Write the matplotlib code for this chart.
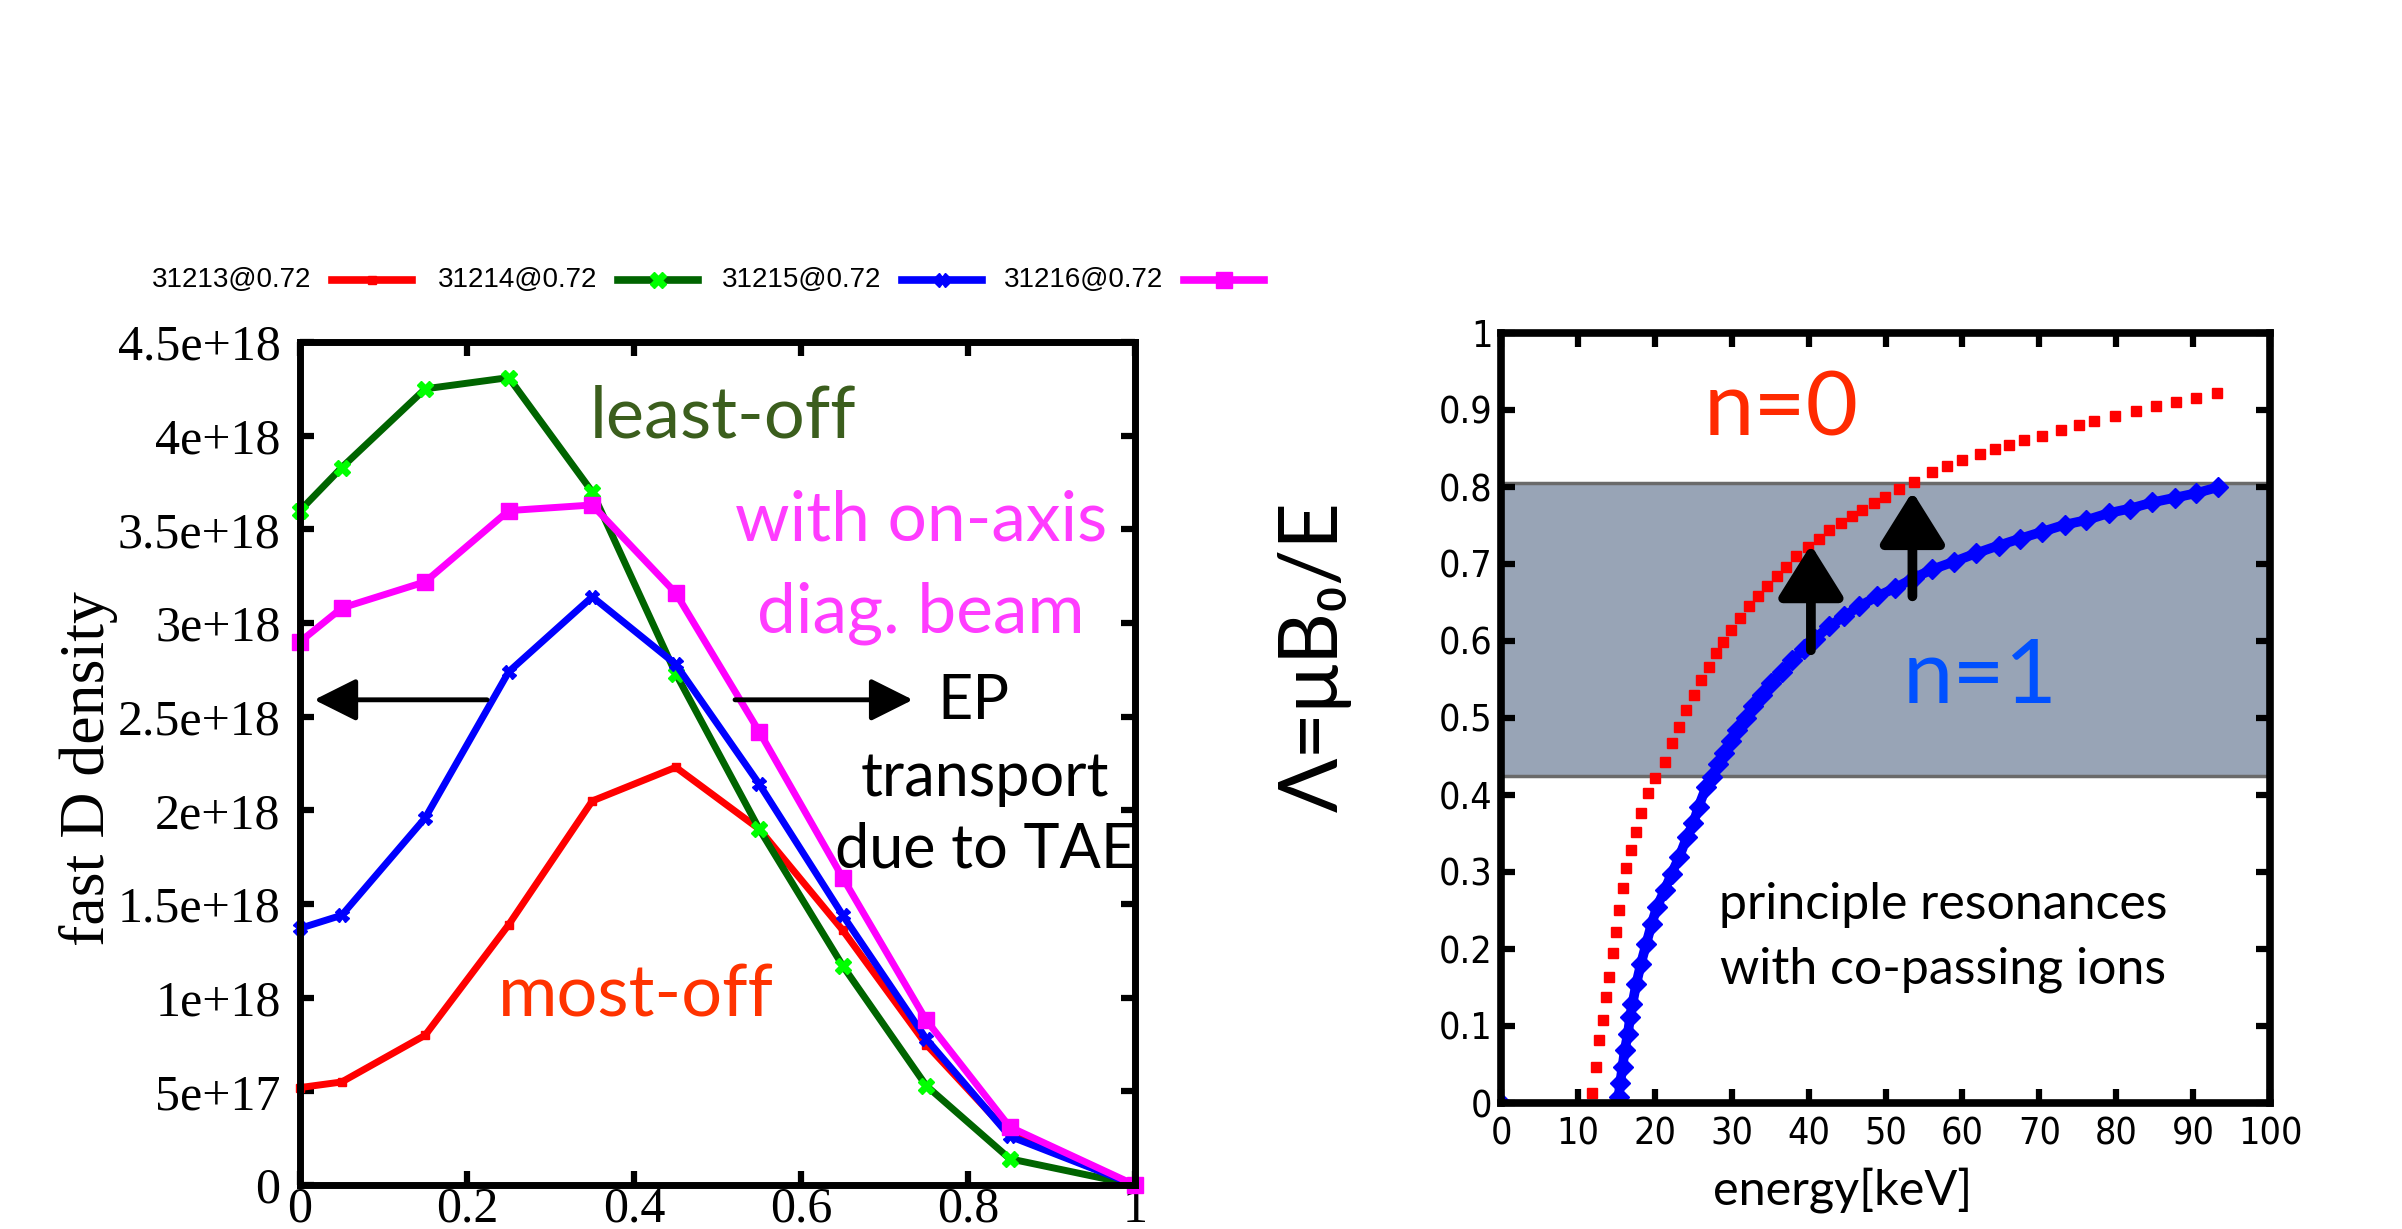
import numpy as np
import matplotlib
matplotlib.use("Agg")
import matplotlib.pyplot as plt
from matplotlib.lines import Line2D

# fast D density profiles (units of 1e18 m^-3) at t = 0.72 s
rho = [0, 0.05, 0.15, 0.25, 0.35, 0.45, 0.55, 0.65, 0.75, 0.85, 1.0]
shots = ["31213@0.72", "31214@0.72", "31215@0.72", "31216@0.72"]
dens_31213 = [0.52, 0.55, 0.80, 1.39, 2.05, 2.23, 1.90, 1.36, 0.75, 0.27, 0.0]
dens_31214 = [3.60, 3.83, 4.25, 4.31, 3.70, 2.73, 1.90, 1.17, 0.53, 0.14, 0.0]
dens_31215 = [1.37, 1.44, 1.96, 2.74, 3.14, 2.78, 2.14, 1.44, 0.78, 0.26, 0.0]
dens_31216 = [2.90, 3.08, 3.22, 3.60, 3.63, 3.16, 2.42, 1.64, 0.88, 0.31, 0.0]

# resonance curves Lambda(E)
energy_n0 = [11.8, 12.3, 12.8, 13.2, 13.7, 14.1, 14.5, 14.9, 15.3, 15.8,
             16.3, 16.9, 17.5, 18.2, 19.1, 20.0, 21.3, 22.2, 23.2, 24.1,
             25.1, 26.0, 27.0, 27.9, 28.9, 29.9, 31.1, 32.2, 33.4, 34.6,
             35.9, 37.0, 38.4, 39.9, 41.3, 42.7, 44.2, 45.6, 47.0, 48.5,
             49.9, 51.8, 53.7, 56.1, 58.0, 59.9, 62.3, 64.2, 66.1, 68.0,
             70.4, 72.8, 75.2, 77.1, 79.9, 82.6, 85.2, 87.8, 90.4, 93.1]
lam_n0 = [0.013, 0.047, 0.082, 0.108, 0.138, 0.164, 0.195, 0.222, 0.251, 0.279,
          0.305, 0.329, 0.352, 0.376, 0.402, 0.422, 0.443, 0.467, 0.488, 0.510,
          0.530, 0.549, 0.566, 0.584, 0.599, 0.614, 0.630, 0.645, 0.658, 0.671,
          0.684, 0.696, 0.710, 0.722, 0.733, 0.744, 0.753, 0.762, 0.770, 0.779,
          0.787, 0.798, 0.807, 0.820, 0.827, 0.835, 0.843, 0.849, 0.855, 0.861,
          0.866, 0.874, 0.880, 0.886, 0.892, 0.899, 0.905, 0.910, 0.915, 0.922]
energy_n1 = [15.3, 15.5, 15.8, 16.1, 16.5, 16.8, 17.1, 17.6, 18.2, 18.9,
             19.6, 20.3, 21.3, 22.2, 23.2, 24.2, 25.0, 25.7, 26.7, 27.5,
             28.2, 29.0, 29.9, 30.7, 31.8, 32.8, 34.0, 35.1, 36.5, 37.9,
             39.4, 40.8, 42.7, 44.6, 46.6, 48.9, 51.3, 53.7, 56.1, 58.9,
             61.8, 64.7, 67.5, 70.4, 73.3, 76.1, 79.0, 81.8, 84.7, 87.6,
             90.4, 93.3]
lam_n1 = [0.008, 0.026, 0.047, 0.069, 0.090, 0.112, 0.129, 0.155, 0.181, 0.207,
          0.233, 0.255, 0.277, 0.298, 0.320, 0.346, 0.363, 0.385, 0.411, 0.424,
          0.440, 0.455, 0.470, 0.485, 0.500, 0.515, 0.530, 0.545, 0.560, 0.575,
          0.590, 0.603, 0.619, 0.632, 0.645, 0.658, 0.669, 0.682, 0.693, 0.703,
          0.714, 0.724, 0.733, 0.742, 0.751, 0.757, 0.766, 0.772, 0.780, 0.786,
          0.792, 0.800]
band = (0.425, 0.805)

W, H = 2402, 1229
fig = plt.figure(figsize=(W / 100, H / 100), dpi=100)

serif = "Liberation Serif"
gill = ["Lato", "DejaVu Sans"]

# ---------------- left: density profiles ----------------
ax1 = fig.add_axes([300 / W, 1 - 1185 / H, 835 / W, 843 / H])
styles = [
    dict(color="#ff0000", marker="s", ms=6, mfc="#ff0000", mec="#ff0000"),
    dict(color="#006400", marker="X", ms=11, mfc="#00ff00", mec="#00ff00"),
    dict(color="#0000ff", marker="X", ms=10, mfc="#0000ff", mec="#0000ff"),
    dict(color="#ff00ff", marker="s", ms=12, mfc="#ff00ff", mec="#ff00ff"),
]
profiles = [dens_31213, dens_31214, dens_31215, dens_31216]
for dens, st in zip(profiles, styles):
    ax1.plot(rho, np.array(dens) * 1e18, lw=5, clip_on=False, zorder=3, **st)

ax1.set_xlim(0, 1)
ax1.set_ylim(0, 4.5e18)
ax1.set_xticks([0, 0.2, 0.4, 0.6, 0.8, 1.0])
ax1.set_xticklabels(["0", "0.2", "0.4", "0.6", "0.8", "1"], fontfamily=serif)
yt = np.arange(0, 4.51, 0.5)
ax1.set_yticks(yt * 1e18)
ax1.set_yticklabels(["0", "5e+17", "1e+18", "1.5e+18", "2e+18", "2.5e+18",
                     "3e+18", "3.5e+18", "4e+18", "4.5e+18"], fontfamily=serif)
ax1.tick_params(direction="in", length=10, width=4.5, top=True, right=True,
                labelsize=36)
ax1.tick_params(axis="x", pad=1)
ax1.tick_params(axis="y", pad=14)
for s in ax1.spines.values():
    s.set_linewidth(5)
    s.set_zorder(4)

fig.text(89 / W, 1 - 769 / H, "fast D density", rotation=90, ha="center",
         va="center", fontsize=46, fontfamily=serif)

ax1.text(0.506, 4.10e18, "least-off", color="#3b5e1d", fontsize=52,
         family=gill, ha="center", va="center")
ax1.text(0.744, 3.545e18, "with on-axis", color="#ff3cff", fontsize=50,
         family=gill, ha="center", va="center")
ax1.text(0.744, 3.05e18, "diag. beam", color="#ff3cff", fontsize=50,
         family=gill, ha="center", va="center")
ax1.text(0.806, 2.58e18, "EP", color="k", fontsize=44, family=gill,
         ha="center", va="center")
ax1.text(0.820, 2.17e18, "transport", color="k", fontsize=44, family=gill,
         ha="center", va="center")
ax1.text(0.821, 1.79e18, "due to TAE", color="k", fontsize=44, family=gill,
         ha="center", va="center")
ax1.text(0.402, 1.01e18, "most-off", color="#ff3300", fontsize=52,
         family=gill, ha="center", va="center")

arrow_kw = dict(arrowstyle="-|>,head_length=1.3,head_width=0.65",
                color="k", lw=3.5, mutation_scale=20, shrinkA=0, shrinkB=0)
ax1.annotate("", xy=(0.017, 2.59e18), xytext=(0.224, 2.59e18),
             arrowprops=arrow_kw, zorder=5)
ax1.annotate("", xy=(0.734, 2.59e18), xytext=(0.521, 2.59e18),
             arrowprops=arrow_kw, zorder=5)

# legend row above the left panel
leg_y = 1 - 280 / H
line_starts = [332, 618, 902, 1184]
for name, st, x0 in zip(shots, styles, line_starts):
    fig.text((x0 - 21) / W, leg_y, name, ha="right", va="center",
             fontsize=20, fontfamily="Liberation Sans")
    fig.add_artist(Line2D([x0 / W, (x0 + 80) / W], [leg_y, leg_y],
                          transform=fig.transFigure, color=st["color"], lw=5.5))
    fig.add_artist(Line2D([(x0 + 40) / W], [leg_y], transform=fig.transFigure,
                          ls="none", marker=st["marker"], ms=st["ms"],
                          mfc=st["mfc"], mec=st["mec"]))

# ---------------- right: resonance map ----------------
ax2 = fig.add_axes([1501 / W, 1 - 1103 / H, 769 / W, 770 / H])
ax2.axhspan(band[0], band[1], facecolor="#98a4b6", edgecolor="#6a6a6a",
            lw=2.5, zorder=0)
ax2.plot(energy_n0, lam_n0, ls="none", marker="s", ms=6.5, color="#ff0000",
         zorder=3)
ax2.plot(energy_n1, lam_n1, "-", lw=7, color="#0000ff", marker="D", ms=10,
         zorder=3)
ax2.plot([0], [0], ls="none", marker="D", ms=10, color="#0000ff", zorder=3)

ax2.set_xlim(0, 100)
ax2.set_ylim(0, 1)
ax2.set_xticks(np.arange(0, 101, 10))
ax2.set_yticks(np.arange(0, 1.01, 0.1))
ax2.set_yticklabels(["0", "0.1", "0.2", "0.3", "0.4", "0.5", "0.6", "0.7",
                     "0.8", "0.9", "1"])
for lab in ax2.get_xticklabels() + ax2.get_yticklabels():
    lab.set_fontfamily("DejaVu Sans")
    lab.set_fontstretch("condensed")
ax2.tick_params(direction="in", length=10, width=4.5, top=True, right=True,
                labelsize=27)
ax2.tick_params(axis="x", pad=10)
ax2.tick_params(axis="y", pad=6)
for s in ax2.spines.values():
    s.set_linewidth(5.5)
    s.set_zorder(4)

arrow2_kw = dict(arrowstyle="-|>,head_length=0.8,head_width=0.5",
                 color="k", lw=7, mutation_scale=40, shrinkA=0, shrinkB=0)
ax2.annotate("", xy=(40.3, 0.725), xytext=(40.3, 0.588),
             arrowprops=arrow2_kw, zorder=5)
ax2.annotate("", xy=(53.5, 0.794), xytext=(53.5, 0.658),
             arrowprops=arrow2_kw, zorder=5)

ax2.text(36.5, 0.90, "n=0", color="#ff2a00", fontsize=65, family=gill,
         ha="center", va="center")
ax2.text(62.3, 0.552, "n=1", color="#0050ff", fontsize=65, family=gill,
         ha="center", va="center")
ax2.text(57.5, 0.257, "principle resonances", color="k", fontsize=36,
         family=gill, ha="center", va="center")
ax2.text(57.5, 0.173, "with co-passing ions", color="k", fontsize=36,
         family=gill, ha="center", va="center")

fig.text(1843 / W, 1 - 1190 / H, "energy[keV]", ha="center", va="center",
         fontsize=35, family=gill)
fig.text(1315 / W, 1 - 657 / H, "\u039b=\u03bcB\u2080/E", rotation=90,
         ha="center", va="center", fontsize=58, family=gill)

fig.savefig("out.png", dpi=100)
